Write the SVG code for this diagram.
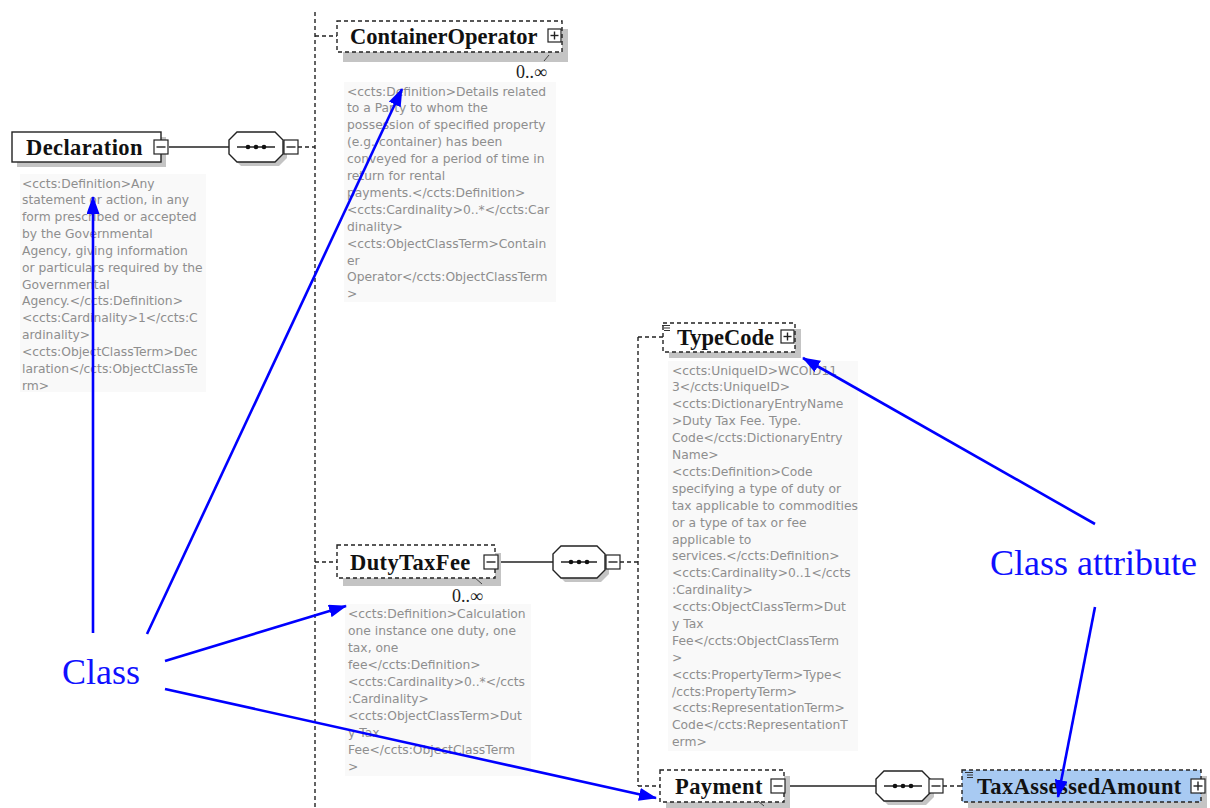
<svg xmlns="http://www.w3.org/2000/svg" width="1210" height="808" viewBox="0 0 1210 808">
  <style>
    .ann { font-family: "DejaVu Sans", "Liberation Sans", sans-serif; font-size: 12.3px; fill: #8e8e8e; }
    .annbg { fill: #f9f9f9; }
    .name { font-family: "Liberation Serif", serif; font-weight: bold; font-size: 22.5px; fill: #111; }
    .wide { letter-spacing: 0.4px; }
    .occ { font-family: "Liberation Serif", serif; font-size: 18px; fill: #222; }
    .lbl { font-family: "Liberation Serif", serif; font-size: 36px; fill: #1010ff; }
    .box { fill: #fff; stroke: #222; stroke-width: 1.4; }
    .dbox { fill: #fff; stroke: #222; stroke-width: 1.4; stroke-dasharray: 4 3; }
    .shadow { fill: #c4c4c4; }
    .solid { stroke: #222; stroke-width: 1.4; fill: none; }
    .dash { stroke: #222; stroke-width: 1.4; fill: none; stroke-dasharray: 4 3; }
    .btn { fill: #fff; stroke: #222; stroke-width: 1.2; }
    .ptr { stroke: #0000ff; stroke-width: 2.6; fill: none; marker-end: url(#ah); }
  </style>
  <defs>
    <marker id="ah" markerWidth="18" markerHeight="13" refX="17" refY="6.5" orient="auto" markerUnits="userSpaceOnUse">
      <path d="M0,0 L18,6.5 L0,13 Z" fill="#0000ff"/>
    </marker>
    <!-- sequence compositor dots -->
    <g id="dots">
      <circle cx="-8" cy="0" r="2.3" fill="#111"/>
      <circle cx="0" cy="0" r="2.3" fill="#111"/>
      <circle cx="8" cy="0" r="2.3" fill="#111"/>
    </g>
  </defs>

  <rect width="1210" height="808" fill="#fff"/>

  <!-- tree connectors -->
  <g id="connectors">
    <line class="solid" x1="169" y1="147" x2="229" y2="147"/>
    <line class="dash" x1="298" y1="147" x2="315" y2="147"/>
    <line class="dash" x1="315" y1="12" x2="315" y2="808"/>
    <line class="dash" x1="315" y1="36" x2="337" y2="36"/>
    <line class="dash" x1="315" y1="562" x2="337" y2="562"/>
    <line class="solid" x1="498" y1="562" x2="553" y2="562"/>
    <line class="dash" x1="620" y1="562" x2="638" y2="562"/>
    <line class="dash" x1="638" y1="337" x2="638" y2="786"/>
    <line class="dash" x1="638" y1="337" x2="663" y2="337"/>
    <line class="dash" x1="638" y1="786" x2="660" y2="786"/>
    <line class="solid" x1="785" y1="786" x2="876" y2="786"/>
    <line class="dash" x1="943" y1="786" x2="962" y2="786"/>
  </g>

  <!-- Declaration -->
  <g id="declaration">
    <rect class="shadow" x="17" y="137" width="149" height="30"/>
    <rect class="box" x="12" y="132" width="149" height="30"/>
    <text class="name wide" x="26" y="155">Declaration</text>
    <rect class="btn" x="154" y="140" width="14" height="14"/>
    <line class="solid" x1="156.5" y1="147" x2="165.5" y2="147"/>
    <rect class="annbg" x="20" y="174" width="186" height="218"/>
    <text class="ann" x="22" y="187.5">
      <tspan x="22">&lt;ccts:Definition&gt;Any</tspan>
      <tspan x="22" dy="16.85">statement or action, in any</tspan>
      <tspan x="22" dy="16.85">form prescribed or accepted</tspan>
      <tspan x="22" dy="16.85">by the Governmental</tspan>
      <tspan x="22" dy="16.85">Agency, giving information</tspan>
      <tspan x="22" dy="16.85">or particulars required by the</tspan>
      <tspan x="22" dy="16.85">Governmental</tspan>
      <tspan x="22" dy="16.85">Agency.&lt;/ccts:Definition&gt;</tspan>
      <tspan x="22" dy="16.85">&lt;ccts:Cardinality&gt;1&lt;/ccts:C</tspan>
      <tspan x="22" dy="16.85">ardinality&gt;</tspan>
      <tspan x="22" dy="16.85">&lt;ccts:ObjectClassTerm&gt;Dec</tspan>
      <tspan x="22" dy="16.85">laration&lt;/ccts:ObjectClassTe</tspan>
      <tspan x="22" dy="16.85">rm&gt;</tspan>
    </text>
  </g>

  <!-- Declaration sequence -->
  <g id="declaration-seq">
    <path class="shadow" d="M241,136 H279 L287,144 V158 L279,166 H241 L233,158 V144 Z"/>
    <path class="box" d="M237,132 H275 L283,140 V154 L275,162 H237 L229,154 V140 Z"/>
    <line class="solid" x1="237" y1="147" x2="275" y2="147"/>
    <use href="#dots" x="256" y="147"/>
    <rect class="btn" x="284" y="140" width="14" height="14"/>
    <line class="solid" x1="286.5" y1="147" x2="295.5" y2="147"/>
  </g>

  <!-- ContainerOperator -->
  <g id="container-operator">
    <rect class="shadow" x="343" y="29" width="225" height="33"/>
    <rect class="dbox" x="337" y="21" width="225" height="31"/>
    <text class="name" x="350" y="44">ContainerOperator</text>
    <rect class="btn" x="548" y="29" width="13" height="13"/>
    <line class="solid" x1="550.5" y1="35.5" x2="558.5" y2="35.5"/>
    <line class="solid" x1="554.5" y1="31.5" x2="554.5" y2="39.5"/>
    <line x1="544" y1="61" x2="549" y2="55" stroke="#444" stroke-width="1"/>
    <text class="occ" x="516" y="78">0..∞</text>
    <rect class="annbg" x="344" y="82" width="212" height="220"/>
    <text class="ann" x="347" y="95.5">
      <tspan x="347">&lt;ccts:Definition&gt;Details related</tspan>
      <tspan x="347" dy="16.9">to a Party to whom the</tspan>
      <tspan x="347" dy="16.9">possession of specified property</tspan>
      <tspan x="347" dy="16.9">(e.g. container) has been</tspan>
      <tspan x="347" dy="16.9">conveyed for a period of time in</tspan>
      <tspan x="347" dy="16.9">return for rental</tspan>
      <tspan x="347" dy="16.9">payments.&lt;/ccts:Definition&gt;</tspan>
      <tspan x="347" dy="16.9">&lt;ccts:Cardinality&gt;0..*&lt;/ccts:Car</tspan>
      <tspan x="347" dy="16.9">dinality&gt;</tspan>
      <tspan x="347" dy="16.9">&lt;ccts:ObjectClassTerm&gt;Contain</tspan>
      <tspan x="347" dy="16.9">er</tspan>
      <tspan x="347" dy="16.9">Operator&lt;/ccts:ObjectClassTerm</tspan>
      <tspan x="347" dy="16.9">&gt;</tspan>
    </text>
  </g>

  <!-- DutyTaxFee -->
  <g id="duty-tax-fee">
    <rect class="shadow" x="343" y="553" width="158" height="33"/>
    <rect class="dbox" x="337" y="545" width="158" height="33"/>
    <text class="name wide" x="350" y="570">DutyTaxFee</text>
    <rect class="btn" x="484" y="555" width="14" height="14"/>
    <line class="solid" x1="486.5" y1="562" x2="495.5" y2="562"/>
    <line x1="474" y1="577" x2="482" y2="584" stroke="#444" stroke-width="1"/>
    <text class="occ" x="452" y="602">0..∞</text>
    <rect class="annbg" x="345" y="604" width="186" height="172"/>
    <text class="ann" x="348" y="617.5">
      <tspan x="348">&lt;ccts:Definition&gt;Calculation</tspan>
      <tspan x="348" dy="17">one instance one duty, one</tspan>
      <tspan x="348" dy="17">tax, one</tspan>
      <tspan x="348" dy="17">fee&lt;/ccts:Definition&gt;</tspan>
      <tspan x="348" dy="17">&lt;ccts:Cardinality&gt;0..*&lt;/ccts</tspan>
      <tspan x="348" dy="17">:Cardinality&gt;</tspan>
      <tspan x="348" dy="17">&lt;ccts:ObjectClassTerm&gt;Dut</tspan>
      <tspan x="348" dy="17">y Tax</tspan>
      <tspan x="348" dy="17">Fee&lt;/ccts:ObjectClassTerm</tspan>
      <tspan x="348" dy="17">&gt;</tspan>
    </text>
  </g>

  <!-- DutyTaxFee sequence -->
  <g id="duty-tax-fee-seq">
    <path class="shadow" d="M565,550 H601 L609,558 V574 L601,582 H565 L557,574 V558 Z"/>
    <path class="box" d="M561,546 H597 L605,554 V570 L597,578 H561 L553,570 V554 Z"/>
    <line class="solid" x1="561" y1="562" x2="597" y2="562"/>
    <use href="#dots" x="579" y="562"/>
    <rect class="btn" x="606" y="555" width="14" height="14"/>
    <line class="solid" x1="608.5" y1="562" x2="617.5" y2="562"/>
  </g>

  <!-- TypeCode -->
  <g id="type-code">
    <rect class="shadow" x="669" y="329" width="132" height="29"/>
    <rect class="dbox" x="663" y="323" width="132" height="29"/>
    <g stroke="#333" stroke-width="1">
      <line x1="662" y1="325.5" x2="670" y2="325.5"/>
      <line x1="664" y1="328" x2="670" y2="328"/>
      <line x1="664" y1="330.5" x2="670" y2="330.5"/>
    </g>
    <text class="name" x="677" y="345">TypeCode</text>
    <rect class="btn" x="781" y="330" width="13" height="13"/>
    <line class="solid" x1="783.5" y1="336.5" x2="791.5" y2="336.5"/>
    <line class="solid" x1="787.5" y1="332.5" x2="787.5" y2="340.5"/>
    <rect class="annbg" x="668" y="361" width="190" height="390"/>
    <text class="ann" x="672" y="374.5">
      <tspan x="672">&lt;ccts:UniqueID&gt;WCOID11</tspan>
      <tspan x="672" dy="16.9">3&lt;/ccts:UniqueID&gt;</tspan>
      <tspan x="672" dy="16.9">&lt;ccts:DictionaryEntryName</tspan>
      <tspan x="672" dy="16.9">&gt;Duty Tax Fee. Type.</tspan>
      <tspan x="672" dy="16.9">Code&lt;/ccts:DictionaryEntry</tspan>
      <tspan x="672" dy="16.9">Name&gt;</tspan>
      <tspan x="672" dy="16.9">&lt;ccts:Definition&gt;Code</tspan>
      <tspan x="672" dy="16.9">specifying a type of duty or</tspan>
      <tspan x="672" dy="16.9">tax applicable to commodities</tspan>
      <tspan x="672" dy="16.9">or a type of tax or fee</tspan>
      <tspan x="672" dy="16.9">applicable to</tspan>
      <tspan x="672" dy="16.9">services.&lt;/ccts:Definition&gt;</tspan>
      <tspan x="672" dy="16.9">&lt;ccts:Cardinality&gt;0..1&lt;/ccts</tspan>
      <tspan x="672" dy="16.9">:Cardinality&gt;</tspan>
      <tspan x="672" dy="16.9">&lt;ccts:ObjectClassTerm&gt;Dut</tspan>
      <tspan x="672" dy="16.9">y Tax</tspan>
      <tspan x="672" dy="16.9">Fee&lt;/ccts:ObjectClassTerm</tspan>
      <tspan x="672" dy="16.9">&gt;</tspan>
      <tspan x="672" dy="16.9">&lt;ccts:PropertyTerm&gt;Type&lt;</tspan>
      <tspan x="672" dy="16.9">/ccts:PropertyTerm&gt;</tspan>
      <tspan x="672" dy="16.9">&lt;ccts:RepresentationTerm&gt;</tspan>
      <tspan x="672" dy="16.9">Code&lt;/ccts:RepresentationT</tspan>
      <tspan x="672" dy="16.9">erm&gt;</tspan>
    </text>
  </g>

  <!-- Payment -->
  <g id="payment">
    <rect class="shadow" x="666" y="776" width="124" height="32"/>
    <rect class="dbox" x="660" y="770" width="124" height="32"/>
    <text class="name wide" x="675" y="794">Payment</text>
    <rect class="btn" x="771" y="779" width="14" height="14"/>
    <line class="solid" x1="773.5" y1="786" x2="782.5" y2="786"/>
    <line x1="758" y1="801" x2="764" y2="806" stroke="#444" stroke-width="1"/>
  </g>

  <!-- Payment sequence -->
  <g id="payment-seq">
    <path class="shadow" d="M888,775 H926 L934,783 V797 L926,805 H888 L880,797 V783 Z"/>
    <path class="box" d="M884,771 H922 L930,779 V793 L922,801 H884 L876,793 V779 Z"/>
    <line class="solid" x1="884" y1="786" x2="922" y2="786"/>
    <use href="#dots" x="903" y="786"/>
    <rect class="btn" x="929" y="779" width="14" height="14"/>
    <line class="solid" x1="931.5" y1="786" x2="940.5" y2="786"/>
  </g>

  <!-- TaxAssessedAmount -->
  <g id="tax-assessed-amount">
    <rect class="shadow" x="968" y="776" width="239" height="32"/>
    <rect x="962" y="770" width="239" height="32" fill="#a8caf2" stroke="#222" stroke-width="1.4" stroke-dasharray="4 3"/>
    <g stroke="#333" stroke-width="1">
      <line x1="965" y1="772.5" x2="973" y2="772.5"/>
      <line x1="967" y1="775" x2="973" y2="775"/>
      <line x1="967" y1="777.5" x2="973" y2="777.5"/>
    </g>
    <text class="name wide" x="977" y="794">TaxAssessedAmount</text>
    <rect class="btn" x="1191" y="779" width="14" height="14"/>
    <line class="solid" x1="1193.5" y1="786" x2="1202.5" y2="786"/>
    <line class="solid" x1="1198" y1="781.5" x2="1198" y2="790.5"/>
  </g>

  <!-- callout labels and pointers -->
  <g id="callouts">
    <text class="lbl" x="62" y="684">Class</text>
    <text class="lbl" x="990" y="575">Class attribute</text>
    <line class="ptr" x1="93" y1="633" x2="93" y2="197"/>
    <line class="ptr" x1="147" y1="634" x2="402" y2="89"/>
    <line class="ptr" x1="165" y1="661" x2="346" y2="606"/>
    <line class="ptr" x1="165" y1="689" x2="656" y2="798"/>
    <line class="ptr" x1="1095" y1="524" x2="803" y2="358"/>
    <line class="ptr" x1="1095" y1="607" x2="1058" y2="797"/>
  </g>
</svg>
